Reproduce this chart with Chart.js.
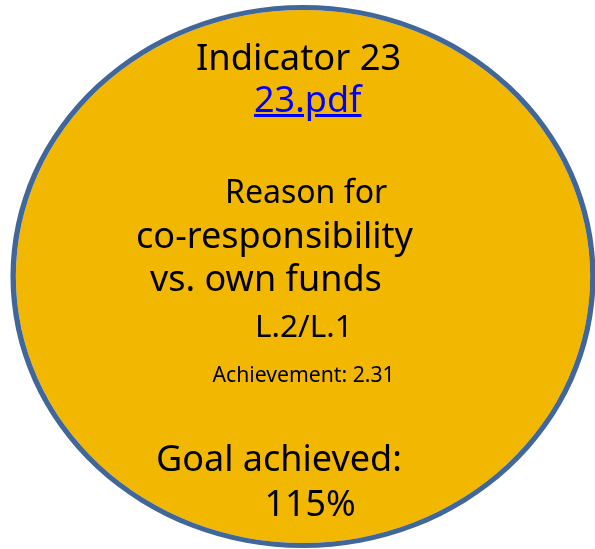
<!DOCTYPE html>
<html>
<head>
<meta charset="utf-8">
<script src="https://cdn.jsdelivr.net/npm/chart.js@4.4.0/dist/chart.umd.min.js"></script>
<style>
  html, body { margin: 0; padding: 0; background: #ffffff; }
  #wrap { position: relative; width: 595px; height: 549px; overflow: hidden; }
  #c { position: absolute; left: 0; top: 0; }
  .t { position: absolute; white-space: nowrap; font-family: "Noto Sans", "Open Sans", sans-serif; color: #000; line-height: 1; }
  .lnk, .lnk:link, .lnk:visited, .lnk:hover { color: #0000FF !important; text-decoration: underline !important; }
</style>
</head>
<body>
<div id="wrap">
  <canvas id="c" width="595" height="549"></canvas>
</div>
<script>
// ---- data ----
const indicatorLabels = ['Indicator 23'];
const indicatorLink = ['23.pdf'];
const indicatorTitleLines = ['Reason for', 'co-responsibility', 'vs. own funds', 'L.2/L.1'];
const achievementValues = [2.31];
const goalAchievedPct = [115];

// ---- text lines (content from the arrays above) ----
const textLines = [
  { text: indicatorLabels[0], left: 196, base: 70, size: 36.3 },
  { text: indicatorLink[0], left: 254, base: 113, size: 36, link: true },
  { text: indicatorTitleLines[0], left: 225, base: 203, size: 32 },
  { text: indicatorTitleLines[1], left: 136, base: 248, size: 36.1 },
  { text: indicatorTitleLines[2], left: 150, base: 292, size: 36 },
  { text: indicatorTitleLines[3], left: 255, base: 337, size: 31.5 },
  { text: 'Achievement: ' + achievementValues[0].toFixed(2), left: 212.5, base: 382, size: 21.2 },
  { text: 'Goal achieved:', left: 156, base: 472, size: 36 },
  { text: goalAchievedPct[0] + '%', left: 264.5, base: 517, size: 35.8 }
];
const wrap = document.getElementById('wrap');
textLines.forEach(l => {
  const d = document.createElement('div');
  d.className = 't';
  d.style.fontSize = l.size + 'px';
  d.style.left = l.left + 'px';
  d.style.top = (l.base - 0.888 * l.size) + 'px';
  if (l.link) {
    const a = document.createElement('a');
    a.className = 'lnk';
    a.href = indicatorLink[0];
    a.style.color = '#0000FF';
    a.style.textDecoration = 'underline';
    a.textContent = l.text;
    d.appendChild(a);
  } else {
    d.textContent = l.text;
  }
  wrap.appendChild(d);
});

// ---- horizontal stretch of the round pie into an ellipse ----
const stretchX = 292 / 271;
const ellipsePlugin = {
  id: 'ellipse',
  beforeDatasetsDraw(chart) {
    const arc = chart.getDatasetMeta(0).data[0];
    const ctx = chart.ctx;
    ctx.save();
    ctx.translate(arc.x, 0);
    ctx.scale(stretchX, 1);
    ctx.translate(-arc.x, 0);
  },
  afterDatasetsDraw(chart) {
    chart.ctx.restore();
  }
};

new Chart(document.getElementById('c'), {
  type: 'pie',
  data: {
    labels: indicatorLabels,
    datasets: [
      { // outline ring
        data: goalAchievedPct,
        backgroundColor: '#41679A',
        borderWidth: 0,
        weight: 5,
        radius: 271.5
      },
      { // filled body
        data: goalAchievedPct,
        backgroundColor: '#F2B700',
        borderWidth: 0,
        weight: 266.5,
        radius: 271.5
      }
    ]
  },
  options: {
    responsive: false,
    animation: false,
    events: [],
    layout: { padding: { left: 30, right: 19, top: 6, bottom: 2 } },
    plugins: { legend: { display: false }, tooltip: { enabled: false }, title: { display: false } }
  },
  plugins: [ellipsePlugin]
});
</script>
</body>
</html>
